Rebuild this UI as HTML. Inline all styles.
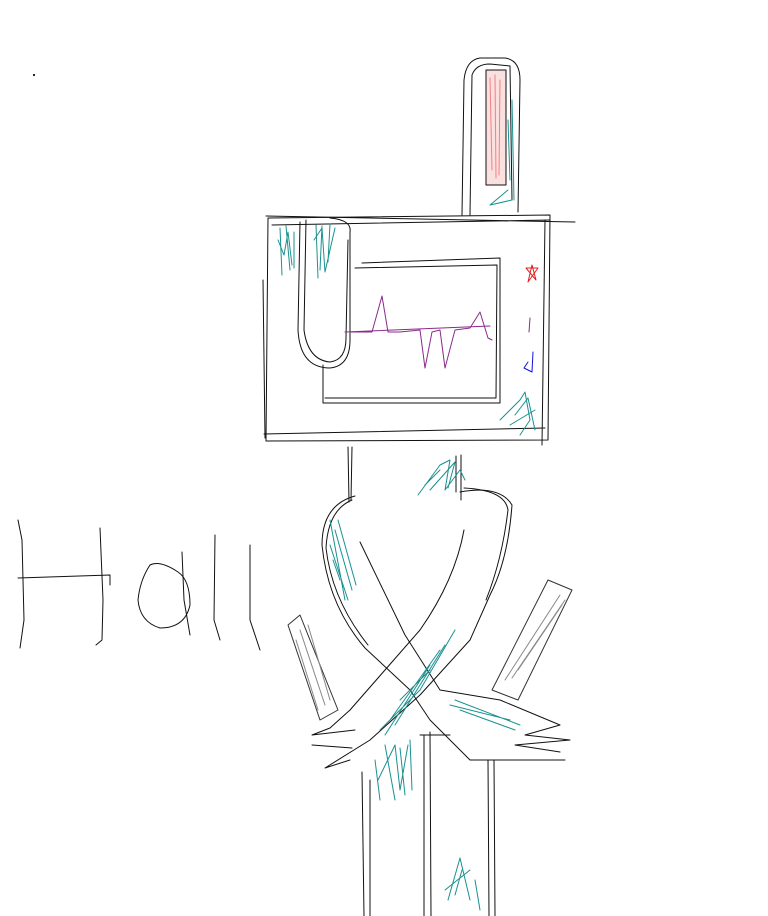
<!DOCTYPE html>
<html><head><meta charset="utf-8"><style>html,body{margin:0;padding:0;background:#fff}svg{display:block}</style></head>
<body>
<svg width="768" height="916" viewBox="0 0 768 916" xmlns="http://www.w3.org/2000/svg" fill="none" stroke="#111" stroke-width="1" stroke-linecap="round" stroke-linejoin="round">
<!-- antenna -->
<path d="M462 215 L464 80 Q466 60 480 58 L505 58 Q520 60 520 80 L518 212"/>
<path d="M470 215 L472 75 Q476 64 490 64 L510 66 L512 200"/>
<rect x="486" y="70" width="20" height="115" fill="#fbe0e0" stroke="#111"/>
<path d="M490 78 L492 170 M495 75 L496 178 M500 80 L499 175" stroke="#f08080"/>
<path d="M512 100 L514 200 M508 190 L490 205 L512 200 M508 120 L510 180" stroke="#1a9090"/>
<!-- head box -->
<path d="M268 218 L550 215 L548 440 L266 441 Z"/>
<path d="M272 225 L550 220 M266 216 L575 222 M264 434 L545 428 M263 280 L265 438 M545 220 L542 445"/>
<path d="M362 263 L500 258 L500 403 L323 403 L323 365"/>
<path d="M355 268 L497 265 L496 398 L325 398"/>
<!-- U shape -->
<path d="M300 222 L298 330 Q300 368 330 368 Q350 366 350 340 L350 232 Q352 220 330 218"/>
<path d="M306 220 L304 330 Q308 360 330 362 Q346 360 346 338 L348 240"/>
<path d="M280 228 L282 275 M286 226 L290 270 M294 232 L294 268 M316 225 L318 278 M322 226 L320 270 M330 224 L328 262 M278 240 L284 255 L288 232 L292 265 M314 240 L322 228 L325 272 L335 228" stroke="#1a9090"/>
<!-- waveform -->
<path d="M350 332 L372 332 L382 296 L388 332 L400 332 L420 330 L425 368 L432 332 L440 330 L445 368 L455 330 L470 328 L480 312 L488 338 L492 340" stroke="#8a2b8a"/>
<path d="M345 332 L490 326" stroke="#8a2b8a"/>
<!-- indicators -->
<path d="M526 268 L538 268 L528 282 L532 265 L536 280 Z" stroke="#e02020"/>
<path d="M530 318 L529 332" stroke="#8a2b8a"/>
<path d="M533 352 L532 372 L524 368 L528 362" stroke="#1010e0"/>
<path d="M500 420 L520 400 L525 392 L530 420 L520 435 M510 425 L535 410 M515 415 L528 398 L535 430" stroke="#1a9090"/>
<!-- neck -->
<path d="M348 447 L349 502 M352 447 L351 500 M461 455 L461 500 M456 456 L456 492"/>
<path d="M418 495 L440 465 L450 460 L445 490 L460 470 L465 480 M425 485 L440 470 M430 490 L455 462 L448 488" stroke="#1a9090"/>
<!-- arms -->
<path d="M355 496 Q322 505 322 545 Q328 605 365 648 L410 690 L430 720 L470 760 L565 760"/>
<path d="M352 500 Q328 510 326 548 Q332 600 368 645"/>
<path d="M460 492 Q500 485 512 505 Q508 560 490 595 L470 640 L420 695 L370 740 L325 768 L350 760"/>
<path d="M464 488 Q505 490 508 510 Q502 560 486 600"/>
<path d="M464 530 Q455 580 420 630 L350 710 L330 728 L312 735 L355 730 M312 745 L352 748"/>
<path d="M360 542 L405 635 L440 690 L500 700 L560 725 L525 735 L570 740 L515 745 L560 752"/>
<path d="M330 520 L345 600 M333 560 L340 580 M335 530 L352 590 M330 545 L348 600 M338 520 L356 585" stroke="#1a9090"/>
<path d="M380 730 L420 690 L455 630 M390 720 L440 650 M400 700 L430 670 M450 705 L510 720 M385 735 L430 665 M395 725 L445 645 M455 700 L520 725 M460 710 L515 730" stroke="#1a9090"/>
<!-- side blades -->
<path d="M288 625 L300 615 L338 710 L320 720 Z" stroke="#333"/>
<path d="M300 630 L325 705 M308 625 L330 700 M296 640 L318 710" stroke="#888"/>
<path d="M492 690 L548 580 L572 590 L518 700 Z" stroke="#333"/>
<path d="M505 680 L560 595 M512 678 L565 600 M518 670 L562 605" stroke="#888"/>
<!-- legs -->
<path d="M362 772 L364 916 M370 780 L370 916 M424 735 L424 916 M430 732 L431 916 M488 760 L489 916 M494 760 L495 916 M420 735 L450 735"/>
<path d="M375 760 L380 800 M385 745 L395 800 M400 748 L405 795 M410 740 L412 790 M378 780 L395 745 L400 790 L408 745" stroke="#1a9090"/>
<path d="M448 900 L460 858 L470 900 M455 895 L462 870 M475 880 L480 910 M445 890 L470 870" stroke="#1a9090"/>
<!-- Hell -->
<path d="M18 520 L22 540 L24 620 L20 648 M100 528 L103 600 L102 640 L96 645 M18 578 L110 575 L110 585"/>
<path d="M150 565 Q140 580 138 600 Q140 622 160 628 Q185 628 190 605 Q190 580 178 572 Q160 560 150 565 Z"/>
<path d="M182 552 L184 600 L190 635 M215 535 L214 620 L220 640 M250 545 L250 620 L260 650"/>
<circle cx="34" cy="75" r="0.6" fill="#111"/>
</svg>
</body></html>
